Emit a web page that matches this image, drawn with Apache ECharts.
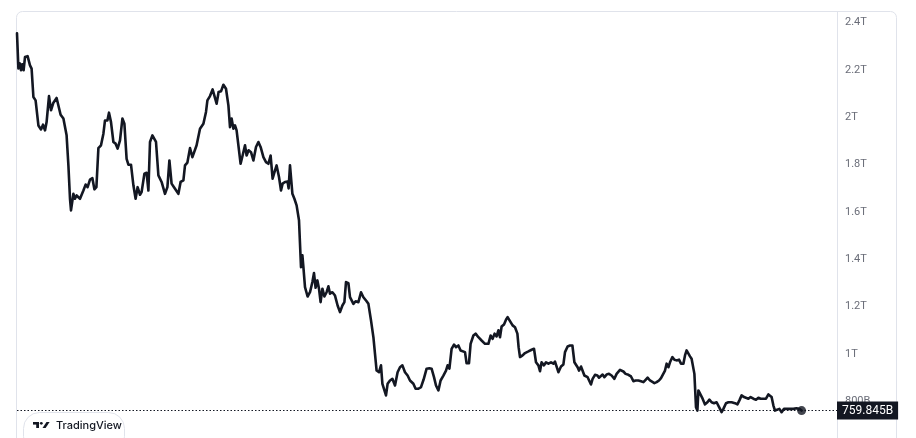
<!DOCTYPE html>
<html>
<head>
<meta charset="utf-8">
<script src="https://cdn.jsdelivr.net/npm/echarts@6/dist/echarts.min.js"></script>
<style>
html,body{margin:0;padding:0;background:#fff;}
#chart{width:916px;height:438px;}
</style>
</head>
<body>
<div id="chart"></div>
<script>
// x: day index from start of the visible range; y: market cap in billions (USD)
const days = [
0,0.7,1.5,2,2.7,3.3,4,5.3,6.5,7.3,
8.2,9.3,10.7,12,13,14,14.8,16,17,18.2,
19.8,20.7,21.8,23.2,24.8,25.7,26.5,27,28.2,29,
29.8,31.5,33.2,34.3,35.3,36.5,37.7,38.7,39.7,40.7,
42,43.2,44,45.2,46,47,48.2,49.3,50.3,51.5,
52.7,53.7,54.8,55.7,57,58.2,59.3,60.3,61.5,62.3,
63.7,64.8,65.7,66.5,67.7,
68.5,69.5,70.7,71.5,72.3,74,75.2,76.2,77.3,78.5,
79.5,80.7,81.8,83.2,84,85.2,86.5,87.7,88.7,89.8,
91.5,93.2,94.5,95.2,96.5,97.8,98.7,99.8,100.8,102,
103.2,104.5,105.7,106.5,107.3,108.2,109,109.8,110.7,111.8,
112.8,114,114.8,115.8,117,118.2,119.5,120.7,121.8,123.2,
124.5,125.7,126.8,127.8,129,129.8,131,132,132.8,
134,135.3,135.8,136.5,137,137.7,138.7,139.8,141,141.5,
142,142.7,143.2,144,145.3,146.5,147.7,148.5,149.3,150.2,
151,151.8,152.7,153.7,154.8,155.7,156.5,157.7,159,160.3,
161.5,162.7,163.7,164.5,165.7,166.5,167.3,168.2,169.3,170.7,
172,173.2,174.8,175.7,177,178.2,179,179.8,181,182,
182.7,183.7,184.5,185.3,186.5,187.7,189,190.3,191.5,192.7,
194,195.3,196.5,198.2,199.3,200.7,202,
203.3,204.8,206.2,207.3,208.5,209.5,210.7,211.8,213.2,214.5,
215.3,216.2,217.3,218.5,219.5,220.7,221.8,222.8,224,224.8,
226,226.8,228.2,229.3,230.7,232.3,234,235.7,236.8,237.8,
238.8,239.8,240.7,241.5,242.3,243.5,244.5,245.3,246.5,247.8,
249,250.2,250.8,251.5,252.8,254,255.7,257.3,258.5,259.5,
260.7,261.5,262.3,263.5,264.5,265.7,267,268.2,269,269.8,270.7,
272,273.2,274,275.3,276.5,277.7,278.7,279.5,280.3,281,
282,283,283.7,284.3,285.3,286.2,287,287.8,289,290.2,
291,292,292.8,293.7,294.8,296,297.3,298.7,299.8,301.5,
303.2,304.3,305.7,307,308.2,309.3,310.7,312,313.2,314.3,
315.3,316.5,317.3,318.7,319.8,321,322,322.7,324,324.8,
325.7,326.5,327.7,328.7,329.8,331,332,333.2,334,334.8,
335.7,336.5,337.3,338.2,338.7,
339.5,340.2,340.7,341.5,342.8,344,345.2,346.2,347.3,348.5,
349.8,350.7,351.5,352.3,353.2,354.5,355.7,357.3,359,360.2,
361.2,362.3,363.5,364.5,365.7,366.8,368.2,369.5,370.7,371.8,
373.2,374.5,375.7,376.5,377.3,378.2,379,379.8,381.2,382.3,
383.5,384.8,386.5,388.2,389.8,391.2,392.3
];
const capsB = [
2354,2206,2227,2198,2223,2198,2254,2258,2219,2205,
2085,2071,1965,1948,1968,1944,1979,2089,2029,2061,
2081,2081,2010,1994,1923,1796,1655,1606,1676,1655,
1669,1655,1690,1715,1704,1736,1742,1695,1704,1869,
1881,1930,1986,1986,2019,1979,1895,1888,1867,1902,
1994,1972,1824,1799,1799,1712,1655,1704,1672,1683,
1761,1765,1690,1895,1923,
1923,1895,1754,1747,1726,1676,1704,1817,1719,1704,
1704,1676,1726,1733,1796,1808,1869,1831,1838,1881,
1951,1972,2022,2071,2089,2117,2117,2057,2106,2109,
2137,2120,2050,1958,1994,1951,1965,1944,1951,1803,
1838,1881,1838,1860,1852,1817,1874,1895,1874,1831,
1810,1803,1838,1740,1775,1796,1747,1690,1719,
1726,1728,1699,1796,1745,1676,1655,1627,1564,1465,
1366,1416,1366,1282,1242,1260,1303,1341,1279,1310,
1275,1218,1275,1242,1260,1285,1254,1260,1246,1204,
1176,1204,1218,1303,1298,1239,1246,1211,1222,1218,
1260,1239,1222,1211,1141,1070,1000,929,922,951,
873,866,824,873,887,894,866,922,943,951,
922,908,887,873,852,852,859,
891,937,939,937,901,866,845,887,908,929,
951,937,1021,1039,1028,1035,1014,1017,1007,960,
960,1042,1077,1085,1070,1056,1042,1042,1077,1063,
1085,1073,1099,1070,1115,1124,1144,1155,1138,1120,
1112,1085,1028,986,993,1003,1010,1017,1021,964,
951,926,964,951,964,958,964,958,967,962,922,
946,955,1007,1031,1035,1035,964,969,943,929,
946,946,908,915,901,894,870,894,911,908,
899,901,912,901,912,915,908,894,915,932,
925,915,911,904,884,887,887,884,880,890,
899,887,880,876,880,887,897,894,929,958,
943,964,986,975,972,975,958,958,993,1014,
1011,989,979,975,915,
774,760,845,838,810,786,795,806,795,791,
795,789,767,753,767,791,795,795,791,786,
803,824,817,819,810,817,810,806,814,810,
810,810,828,831,817,781,760,767,767,753,
767,767,767,767,770,767,759.845
];
const lastValue = 759.845;
const lastLabel = '759.845B';
const yTickMin = 600, yTickMax = 2400, yTickStep = 200;
const brandText = 'TradingView';

const n = Math.min(days.length, capsB.length);
const seriesData = [];
for (let i = 0; i < n; i++) seriesData.push([days[i], capsB[i]]);

const chart = echarts.init(document.getElementById('chart'), null, {renderer: 'canvas'});
const ink = '#131722';
chart.setOption({
  animation: false,
  backgroundColor: '#ffffff',
  grid: {left: 17, top: 22.5, width: 820, height: 425.9, containLabel: false, outerBoundsMode: 'none'},
  xAxis: {type: 'value', min: 0, max: 410, show: false},
  yAxis: {
    type: 'value', position: 'right', min: yTickMin, max: yTickMax, interval: yTickStep,
    axisLine: {show: false}, axisTick: {show: false}, splitLine: {show: false},
    axisLabel: {
      margin: 8, color: '#6a6d78', fontSize: 11, fontFamily: 'Roboto, "Noto Sans", sans-serif',
      formatter: v => v >= 1000 ? (v / 1000) + 'T' : v + 'B'
    }
  },
  series: [
    {
      type: 'line', data: seriesData, showSymbol: false, symbol: 'none',
      lineStyle: {color: ink, width: 2.6, join: 'round', cap: 'round'},
      z: 3,
      markLine: {
        silent: true, symbol: 'none', animation: false,
        lineStyle: {color: ink, width: 1, type: [1.5, 2]},
        label: {
          show: true, position: 'end', distance: 0, formatter: lastLabel,
          color: '#ffffff', backgroundColor: ink, fontSize: 12,
          fontFamily: 'Roboto, "Noto Sans", sans-serif', padding: [3, 5, 3, 5]
        },
        data: [{yAxis: lastValue}]
      }
    },
    {
      type: 'scatter', data: [[days[n - 1], capsB[n - 1]]], symbolSize: 9,
      itemStyle: {color: ink}, z: 4, silent: true
    }
  ],
  graphic: [
    {type: 'rect', silent: true, z: -10, shape: {x: 16.5, y: 11.5, width: 880, height: 450, r: 6},
     style: {fill: 'none', stroke: '#e0e3eb', lineWidth: 1}},
    {type: 'line', silent: true, z: -10, shape: {x1: 837.5, y1: 12, x2: 837.5, y2: 438},
     style: {stroke: '#e0e3eb', lineWidth: 1}},
    {type: 'group', z: 50, children: [
      {type: 'rect', shape: {x: 23.5, y: 412.5, width: 101, height: 40, r: 16},
       style: {fill: '#ffffff', stroke: '#e0e3eb', lineWidth: 1}},
      {type: 'rect', shape: {x: 33, y: 422, width: 6, height: 2.6}, style: {fill: ink}},
      {type: 'rect', shape: {x: 36.2, y: 422, width: 2.8, height: 6}, style: {fill: ink}},
      {type: 'circle', shape: {cx: 41.3, cy: 423.3, r: 1.4}, style: {fill: ink}},
      {type: 'polygon', shape: {points: [[42.5, 428], [46.5, 422], [49.6, 422], [45.6, 428]]}, style: {fill: ink}},
      {type: 'text', x: 56, y: 425.5,
       style: {text: brandText, fill: ink, font: '500 11px Inter, Roboto, sans-serif', textVerticalAlign: 'middle', verticalAlign: 'middle'}}
    ]}
  ]
});
</script>
</body>
</html>
